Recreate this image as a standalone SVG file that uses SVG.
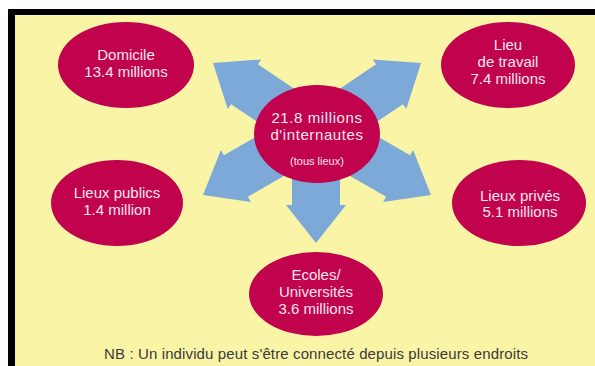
<svg xmlns="http://www.w3.org/2000/svg" width="595" height="366" viewBox="0 0 595 366">
<style>
.node{fill:#C1024C}
.lbl{font-family:"Liberation Sans",Arial,sans-serif;font-size:15px;fill:#FBE6EE;text-anchor:middle}
.big{letter-spacing:0.6px}
.small{font-size:11px}
.arrow{fill:#7DA9D8}
.nb{font-family:"Liberation Sans",Arial,sans-serif;font-size:15px;fill:#3a3a3a;text-anchor:middle}
</style>
<defs>
<polygon id="arr" points="0,0 -38,-30 -38,-24 -130,-24 -130,24 -38,24 -38,30"/>
</defs>
<rect x="0" y="0" width="595" height="366" fill="#ffffff"/>
<rect x="8" y="9" width="587" height="357" fill="#000000"/>
<rect x="15" y="15" width="580" height="351" fill="#FAF5A6"/>
<g id="connectors">
<use href="#arr" class="arrow" transform="translate(213,63) rotate(-146)"/>
<use href="#arr" class="arrow" transform="translate(421,63) rotate(-34)"/>
<use href="#arr" class="arrow" transform="translate(203,195) rotate(150)"/>
<use href="#arr" class="arrow" transform="translate(431,195) rotate(30)"/>
<use href="#arr" class="arrow" transform="translate(316,243) rotate(90)"/>
</g>
<g id="center">
<ellipse class="node" cx="317" cy="134" rx="63" ry="49"/>
<text class="lbl big" x="317" y="123">21.8 millions</text>
<text class="lbl big" x="317" y="140">d'internautes</text>
<text class="lbl small" x="317" y="165">(tous lieux)</text>
</g>
<g id="domicile">
<ellipse class="node" cx="126" cy="65" rx="68" ry="43"/>
<text class="lbl" x="126" y="60">Domicile</text>
<text class="lbl" x="126" y="77">13.4 millions</text>
</g>
<g id="travail">
<ellipse class="node" cx="508" cy="65" rx="67" ry="43"/>
<text class="lbl" x="508" y="50">Lieu</text>
<text class="lbl" x="508" y="67">de travail</text>
<text class="lbl" x="508" y="84">7.4 millions</text>
</g>
<g id="publics">
<ellipse class="node" cx="117" cy="203" rx="66" ry="43"/>
<text class="lbl" x="117" y="198">Lieux publics</text>
<text class="lbl" x="117" y="215">1.4 million</text>
</g>
<g id="prives">
<ellipse class="node" cx="519" cy="203" rx="67" ry="43"/>
<text class="lbl" x="520" y="201">Lieux privés</text>
<text class="lbl" x="520" y="217">5.1 millions</text>
</g>
<g id="ecoles">
<ellipse class="node" cx="316" cy="294" rx="67" ry="42"/>
<text class="lbl" x="316" y="280">Ecoles/</text>
<text class="lbl" x="316" y="297">Universités</text>
<text class="lbl" x="316" y="314">3.6 millions</text>
</g>
<text class="nb" x="316" y="359" textLength="424" lengthAdjust="spacing">NB : Un individu peut s'être connecté depuis plusieurs endroits</text>
</svg>
